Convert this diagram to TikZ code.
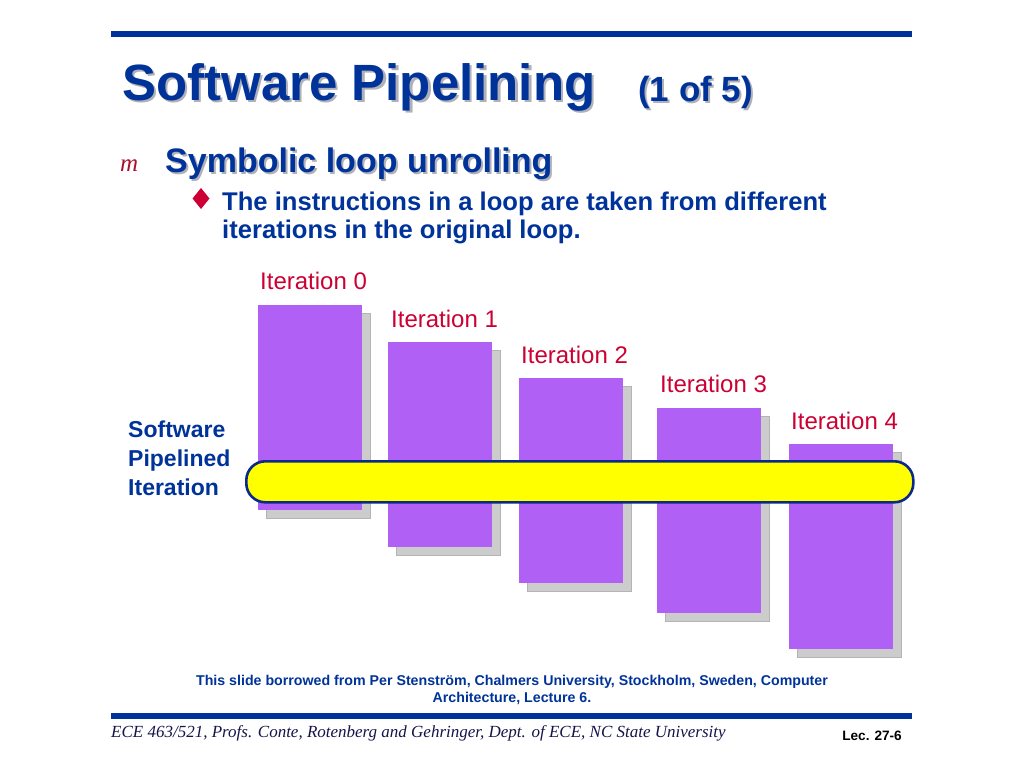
\documentclass[tikz,border=0pt]{standalone}
\usepackage{fontspec}
\setmainfont{Liberation Sans}
\newfontfamily\seriffont{Liberation Serif}
\definecolor{navy}{HTML}{003399}
\definecolor{ired}{HTML}{CC0033}
\definecolor{mred}{HTML}{A8102E}
\definecolor{barpurple}{HTML}{B160F6}
\definecolor{shadowgray}{HTML}{CCCCCC}
\definecolor{shadowedge}{HTML}{B4B4B4}
\definecolor{textshadow}{HTML}{B0B0B8}
\definecolor{ybar}{HTML}{FFFF00}
\definecolor{yedge}{HTML}{0A2A8A}
\definecolor{footink}{HTML}{14144A}
\tikzset{
  txt/.style={inner sep=0pt, anchor=base west},
  bar/.style={fill=barpurple, draw=none, anchor=north west, inner sep=0pt, minimum width=104pt, minimum height=205pt},
  barshadow/.style={fill=shadowgray, draw=shadowedge, line width=0.6pt, anchor=north west, inner sep=0pt, minimum width=104pt, minimum height=205pt},
  itlabel/.style={txt, text=ired, font=\fontsize{24}{28}\selectfont},
  sidelabel/.style={txt, text=navy, font=\fontsize{23}{28}\selectfont\bfseries},
}
\begin{document}
\begin{tikzpicture}[x=1pt,y=-1pt]
\useasboundingbox (0,0) rectangle (1024,768);
% rules
\fill[navy] (111,31) rectangle (912,37);
\fill[navy] (111,713) rectangle (912,719);
% title with shadow
\node[txt, text=textshadow, font=\fontsize{51}{60}\selectfont\bfseries] at (124.5,102.5) {Software Pipelining};
\node[txt, text=navy, font=\fontsize{51}{60}\selectfont\bfseries] (title) at (122,100) {Software Pipelining};
\node[txt, text=textshadow, font=\fontsize{35}{42}\selectfont\bfseries] at (640,103) {(1 of 5)};
\node[txt, text=navy, font=\fontsize{35}{42}\selectfont\bfseries] (part) at (638,101) {(1 of 5)};
% level 1 bullet
\node[txt, text=mred, font=\fontsize{25}{28}\selectfont\seriffont\itshape] (m) at (120,171) {m};
\node[txt, text=textshadow, font=\fontsize{34}{40}\selectfont\bfseries] at (167,174) {Symbolic loop unrolling};
\node[txt, text=navy, font=\fontsize{34}{40}\selectfont\bfseries] (sub) at (165,172) {Symbolic loop unrolling};
% level 2 bullet
\fill[ired] (201,188) -- (209.5,198.5) -- (201,209) -- (192.5,198.5) -- cycle;
\node[txt, text=navy, font=\fontsize{25.6}{30}\selectfont\bfseries] (l1) at (222,210) {The instructions in a loop are taken from different};
\node[txt, text=navy, font=\fontsize{25.6}{30}\selectfont\bfseries] (l2) at (222,238) {iterations in the original loop.};
% bar shadows
\node[barshadow] (s0) at (266,313) {};
\node[barshadow] (s1) at (396,350) {};
\node[barshadow] (s2) at (527,386) {};
\node[barshadow] (s3) at (665,416) {};
\node[barshadow] (s4) at (797,452) {};
% bars
\node[bar] (b0) at (258,305) {};
\node[bar] (b1) at (388,342) {};
\node[bar] (b2) at (519,378) {};
\node[bar] (b3) at (657,408) {};
\node[bar] (b4) at (789,444) {};
% iteration labels
\node[itlabel] (i0) at (260,289) {Iteration 0};
\node[itlabel] (i1) at (391,327) {Iteration 1};
\node[itlabel] (i2) at (521,363) {Iteration 2};
\node[itlabel] (i3) at (660,392) {Iteration 3};
\node[itlabel] (i4) at (791,429) {Iteration 4};
% yellow band
\node[fill=ybar, draw=yedge, line width=2.6pt, rounded corners=19pt, inner sep=0pt, minimum width=667pt, minimum height=41pt, anchor=north west] (band) at (245,460) {};
% side label
\node[sidelabel] (sw1) at (128,437) {Software};
\node[sidelabel] (sw2) at (128,466) {Pipelined};
\node[sidelabel] (sw3) at (128,495) {Iteration};
% credit
\node[inner sep=0pt, anchor=base, text=navy, font=\fontsize{14.2}{17}\selectfont\bfseries, align=center] (credit) at (512,702) {This slide borrowed from Per Stenström, Chalmers University, Stockholm, Sweden, Computer\\Architecture, Lecture 6.};
% footer
\node[txt, text=footink, font=\fontsize{17}{20}\selectfont\seriffont\itshape] (foot) at (111,737) {ECE 463/521, Profs. Conte, Rotenberg and Gehringer, Dept. of ECE, NC State University};
\node[inner sep=0pt, anchor=base east, font=\fontsize{13.6}{16}\selectfont\bfseries] (lec) at (902,740) {Lec. 27-6};
\end{tikzpicture}
\end{document}
